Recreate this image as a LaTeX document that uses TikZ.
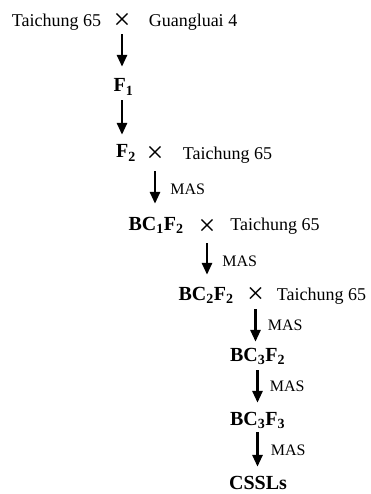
\documentclass[tikz,border=0pt]{standalone}
\usepackage{fontspec}
\setmainfont{Liberation Serif}
\usetikzlibrary{arrows.meta}
\tikzset{
  reg/.style={anchor=base, inner sep=0pt, font=\fontsize{18}{20}\selectfont, text height=12pt, text depth=0pt},
  lab/.style={anchor=base, inner sep=0pt, font=\fontsize{20}{22}\selectfont\bfseries, text height=13pt, text depth=0pt},
  cross/.style={anchor=center, inner sep=0pt, font=\fontsize{30}{30}\selectfont},
  mas/.style={anchor=west, inner sep=0pt, font=\fontsize{16}{18}\selectfont, xshift=14pt},
  arr/.style={line width=2.8pt, -{Triangle[length=12pt,width=10pt]}}
}
\begin{document}
\begin{tikzpicture}[x=1pt,y=-1pt]
\useasboundingbox (0,0) rectangle (370,494);
% row 1
\node[reg] (t1) at (56.5,27) {Taichung 65};
\node[cross] (x1) at (122,21.5) {×};
\node[reg] (g) at (193,27) {Guangluai 4};
% F1
\node[lab] (f1) at (123.5,92) {F\textsubscript{1}};
% F2 row
\node[lab] (f2) at (126,158) {F\textsubscript{2}};
\node[cross] (x2) at (155,154) {×};
\node[reg] (t2) at (227.5,160) {Taichung 65};
% BC1F2 row
\node[lab] (bc1) at (156,230) {BC\textsubscript{1}F\textsubscript{2}};
\node[cross] (x3) at (207,227) {×};
\node[reg] (t3) at (275,230) {Taichung 65};
% BC2F2 row
\node[lab] (bc2) at (206,300) {BC\textsubscript{2}F\textsubscript{2}};
\node[cross] (x4) at (255.5,295) {×};
\node[reg] (t4) at (321.5,300) {Taichung 65};
% lower column
\node[lab] (b32) at (257.5,361) {BC\textsubscript{3}F\textsubscript{2}};
\node[lab] (b33) at (257.5,425) {BC\textsubscript{3}F\textsubscript{3}};
\node[lab] (cssl) at (258,489) {CSSLs};
% arrows
\draw[arr, shorten <=4.5pt, shorten >=12pt] (x1.south) -- (x1.south |- f1.north);
\draw[arr, shorten <=8pt, shorten >=10pt] (f1.south -| x1.south) -- (x1.south |- f2.north);
\draw[arr, shorten <=9pt, shorten >=13pt] (x2.south) -- (x2.south |- bc1.north) node[mas, midway] {MAS};
\draw[arr, shorten <=8pt, shorten >=12pt] (x3.south) -- (x3.south |- bc2.north) node[mas, midway] {MAS};
\draw[arr, shorten <=6pt, shorten >=6pt] (x4.south) -- (x4.south |- b32.north) node[mas, midway, xshift=-3pt] {MAS};
\draw[arr, shorten <=9pt, shorten >=9pt] (b32.south) -- (b32.south |- b33.north) node[mas, midway, xshift=-3pt] {MAS};
\draw[arr, shorten <=7pt, shorten >=9pt] (b33.south) -- (b33.south |- cssl.north) node[mas, midway, xshift=-2pt] {MAS};
\end{tikzpicture}
\end{document}
